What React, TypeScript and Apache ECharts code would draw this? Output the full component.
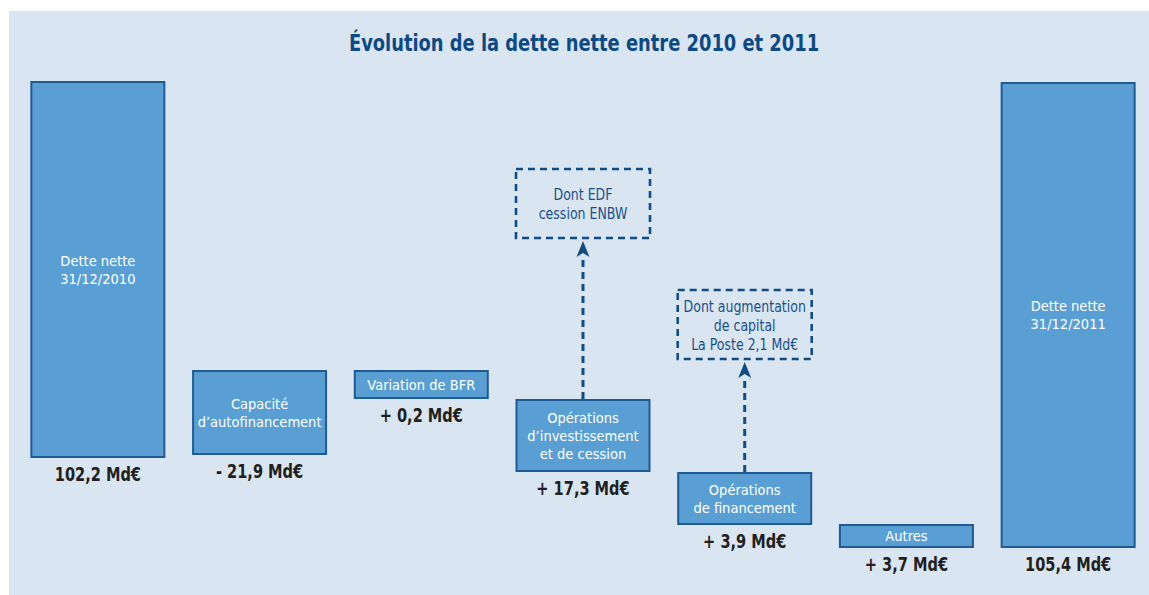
import React, { useEffect, useRef } from "react";
import * as echarts from "echarts";

const FONT = "DejaVu Sans Condensed, Liberation Sans Narrow, sans-serif";

const TITLE = "Évolution de la dette nette entre 2010 et 2011";

const categories = [
  "Dette nette\n31/12/2010",
  "Capacité\nd’autofinancement",
  "Variation de BFR",
  "Opérations\nd’investissement\net de cession",
  "Opérations\nde financement",
  "Autres",
  "Dette nette\n31/12/2011",
];

// Amounts shown under each bar (Md€)
const amounts = [102.2, -21.9, 0.2, 17.3, 3.9, 3.7, 105.4];
const isTotal = [true, false, false, false, false, false, true];

// Schematic bar extents as drawn in the diagram (arbitrary schematic units)
const barLow = [20.4, 21.0, 32.2, 17.6, 7.0, 2.4, 2.4];
const barHigh = [95.8, 38.0, 38.0, 32.2, 17.6, 7.2, 95.6];

// Dashed annotation boxes, attached to a category
const noteCategory = [3, 4];
const noteLow = [64.4, 40.2];
const noteHigh = [78.2, 54.0];
const noteText = [
  "Dont EDF\ncession ENBW",
  "Dont augmentation\nde capital\nLa Poste 2,1 Md€",
];

const fmt = (v: number, total: boolean) => {
  const s = Math.abs(v).toFixed(1).replace(".", ",") + " Md€";
  if (total) return s;
  return (v < 0 ? "- " : "+ ") + s;
};

const BAR_FILL = "#599fd4";
const BAR_BORDER = "#1f5a95";
const DARK_BLUE = "#124c85";

export default function App() {
  const ref = useRef<HTMLDivElement>(null);

  useEffect(() => {
    if (!ref.current) return;
    const chart = echarts.init(ref.current, undefined, { renderer: "svg" });

    const barWidth = 135;

    const option: any = {
      animation: false,
      backgroundColor: "#ffffff",
      graphic: [
        {
          type: "rect",
          left: 9,
          top: 11,
          z: -10,
          shape: { width: 1140, height: 584 },
          style: { fill: "#d9e6f2" },
          silent: true,
        },
        {
          type: "text",
          x: 584,
          y: 43,
          scaleX: 0.864,
          z: 10,
          silent: true,
          style: {
            text: TITLE,
            x: 0,
            y: 0,
            align: "center",
            verticalAlign: "middle",
            fontFamily: FONT,
            fontWeight: "bold",
            fontSize: 23,
            fill: "#0d4a85",
          },
        },
      ],
      grid: { left: 17, top: 60, width: 1140, height: 500 },
      xAxis: {
        type: "category",
        data: categories,
        show: false,
      },
      yAxis: { type: "value", min: 0, max: 100, show: false },
      series: [
        {
          type: "bar",
          stack: "w",
          barWidth,
          silent: true,
          data: barLow,
          itemStyle: { color: "transparent" },
        },
        {
          type: "bar",
          stack: "w",
          barWidth,
          silent: true,
          data: barHigh.map((h, i) => h - barLow[i]),
          itemStyle: {
            color: BAR_FILL,
            borderColor: BAR_BORDER,
            borderWidth: 2,
          },
          label: {
            show: true,
            position: "inside",
            formatter: (p: any) => categories[p.dataIndex],
            fontFamily: FONT,
            fontSize: 14.5,
            lineHeight: 18,
            color: "#ffffff",
          },
        },
        {
          type: "custom",
          silent: true,
          z: 5,
          data: barLow.map((v, i) => [i, v]),
          renderItem: (params: any, api: any) => {
            const p = api.coord([api.value(0), api.value(1)]);
            const i = params.dataIndex;
            return {
              type: "text",
              x: p[0],
              y: p[1] + 16,
              scaleX: 0.81,
              style: {
                text: fmt(amounts[i], isTotal[i]),
                x: 0,
                y: 0,
                align: "center",
                verticalAlign: "middle",
                fontFamily: FONT,
                fontWeight: "bold",
                fontSize: 20,
                fill: "#231f20",
              },
            };
          },
        },
        {
          type: "custom",
          silent: true,
          z: 5,
          data: noteCategory.map((c, i) => [c, noteLow[i], noteHigh[i], barHigh[c]]),
          renderItem: (params: any, api: any) => {
            const idx = api.value(0);
            const lo = api.value(1);
            const hi = api.value(2);
            const from = api.value(3);
            const pLo = api.coord([idx, lo]);
            const pHi = api.coord([idx, hi]);
            const pFrom = api.coord([idx, from]);
            const cx = pLo[0];
            const w = barWidth - 1;
            const tipY = pLo[1] + 3;
            const headLen = 16;
            const headHalf = 6.5;
            return {
              type: "group",
              children: [
                {
                  type: "rect",
                  shape: { x: cx - w / 2, y: pHi[1], width: w, height: pLo[1] - pHi[1] },
                  style: {
                    fill: "none",
                    stroke: DARK_BLUE,
                    lineWidth: 2.6,
                    lineDash: [7, 5],
                  },
                },
                {
                  type: "text",
                  x: cx,
                  y: (pLo[1] + pHi[1]) / 2 + 1,
                  scaleX: 0.93,
                  style: {
                    text: noteText[params.dataIndex],
                    x: 0,
                    y: 0,
                    align: "center",
                    verticalAlign: "middle",
                    fontFamily: FONT,
                    fontSize: 15,
                    lineHeight: 19,
                    fill: "#1a4f88",
                  },
                },
                {
                  type: "line",
                  shape: { x1: cx, y1: pFrom[1], x2: cx, y2: tipY + headLen - 1 },
                  style: {
                    stroke: DARK_BLUE,
                    lineWidth: 3,
                    lineDash: [7, 5],
                  },
                },
                {
                  type: "polygon",
                  shape: {
                    points: [
                      [cx, tipY],
                      [cx - headHalf, tipY + headLen],
                      [cx, tipY + headLen - 4],
                      [cx + headHalf, tipY + headLen],
                    ],
                  },
                  style: { fill: DARK_BLUE },
                },
              ],
            };
          },
        },
      ],
    };

    chart.setOption(option);
    return () => chart.dispose();
  }, []);

  return (
    <div
      ref={ref}
      style={{ position: "absolute", left: 0, top: 0, width: 1149, height: 595 }}
    />
  );
}
